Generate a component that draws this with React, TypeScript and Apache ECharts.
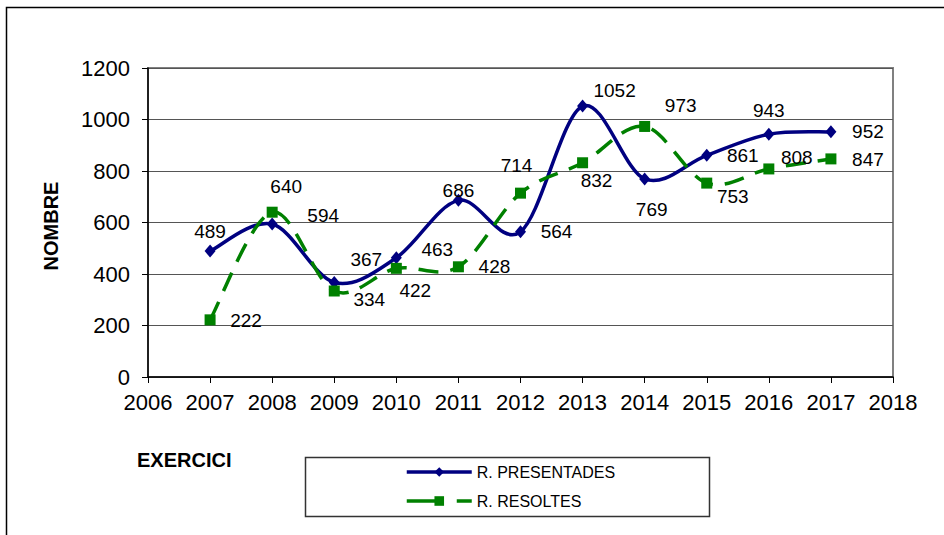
import React, { useEffect, useRef } from "react";
import * as echarts from "echarts";

const years = [2007, 2008, 2009, 2010, 2011, 2012, 2013, 2014, 2015, 2016, 2017];
const presentades = [489, 594, 367, 463, 686, 564, 1052, 769, 861, 943, 952];
const resoltes = [222, 640, 334, 422, 428, 714, 832, 973, 753, 808, 847];
const seriesNames = ["R. PRESENTADES", "R. RESOLTES"];
const xTitle = "EXERCICI";
const yTitle = "NOMBRE";

// label placement offsets (pixels) relative to each point
const presentadesLabelOffsets = [
  [0, -20], [51, -9], [32, -23], [41, -8], [0, -10], [36, 0], [32, -16], [7, 31], [36, 0], [0, -24], [37, 0],
];
const resoltesLabelOffsets = [
  [36, 1], [14, -26], [35, 9], [19, 22], [36, 0], [-4, -28], [14, 18], [36, -21], [26, 13], [28, -11], [37, 1],
];

const FONT = '"Liberation Sans", Arial, Helvetica, sans-serif';
const BLUE = "#000080";
const GREEN = "#008000";

function buildData(values: number[], offsets: number[][]) {
  return years.map((y, i) => ({
    value: [y, values[i]],
    label: { offset: offsets[i] },
  }));
}

// Catmull-Rom style smooth curve (Excel-like), computed in pixel space via the axes
function curveSeries(values: number[], color: string, dash: number[] | null, z: number) {
  return {
    type: "custom",
    silent: true,
    z,
    data: years.map((y, i) => [y, values[i]]),
    encode: { x: 0, y: 1 },
    renderItem: (params: any, api: any) => {
      if (params.dataIndex !== 0) return null;
      const pts = years.map((y, i) => api.coord([y, values[i]]));
      const n = pts.length;
      const t = 1 / 6;
      let d = `M${pts[0][0]},${pts[0][1]}`;
      for (let i = 0; i < n - 1; i++) {
        const p0 = pts[Math.max(0, i - 1)];
        const p1 = pts[i];
        const p2 = pts[i + 1];
        const p3 = pts[Math.min(n - 1, i + 2)];
        const c1x = p1[0] + (p2[0] - p0[0]) * t;
        const c1y = p1[1] + (p2[1] - p0[1]) * t;
        const c2x = p2[0] - (p3[0] - p1[0]) * t;
        const c2y = p2[1] - (p3[1] - p1[1]) * t;
        d += ` C${c1x},${c1y} ${c2x},${c2y} ${p2[0]},${p2[1]}`;
      }
      return {
        type: "path",
        shape: { pathData: d },
        style: {
          fill: "none",
          stroke: color,
          lineWidth: 3.5,
          lineDash: dash || undefined,
        },
      };
    },
  };
}

export default function App() {
  const ref = useRef<HTMLDivElement>(null);
  useEffect(() => {
    if (!ref.current) return;
    const chart = echarts.init(ref.current, undefined, { renderer: "svg" });
    const labelStyle = {
      show: true,
      position: "inside" as const,
      color: "#000",
      fontSize: 19,
      fontFamily: FONT,
    };
    chart.setOption({
      animation: false,
      backgroundColor: "#fff",
      textStyle: { fontFamily: FONT },
      grid: {
        left: 148,
        top: 68,
        right: 51,
        bottom: 158,
        show: true,
        borderColor: "#808080",
        borderWidth: 2,
      },
      xAxis: {
        type: "value",
        min: 2006,
        max: 2018,
        interval: 1,
        axisLine: { show: true, onZero: false, lineStyle: { color: "#000", width: 1.5 } },
        axisTick: { show: true, length: 6, lineStyle: { color: "#000" } },
        splitLine: { show: false },
        axisLabel: {
          formatter: (v: number) => String(v),
          fontSize: 22,
          color: "#000",
          fontFamily: FONT,
          margin: 14,
        },
      },
      yAxis: {
        type: "value",
        min: 0,
        max: 1200,
        interval: 200,
        axisLine: { show: true, lineStyle: { color: "#000", width: 1.5 } },
        axisTick: { show: true, length: 6, lineStyle: { color: "#000" } },
        splitLine: { show: true, lineStyle: { color: "#555", width: 1 } },
        axisLabel: {
          formatter: (v: number) => String(v),
          fontSize: 22,
          color: "#000",
          fontFamily: FONT,
          margin: 18,
        },
      },
      legend: {
        orient: "vertical",
        left: 400,
        top: 459,
        itemWidth: 65,
        itemHeight: 12,
        itemGap: 13,
        data: [
          { name: seriesNames[0], lineStyle: { opacity: 1, color: BLUE, width: 3.5 } },
          { name: seriesNames[1], lineStyle: { opacity: 1, color: GREEN, width: 3.5, type: [36, 14] } },
        ],
        textStyle: { fontSize: 16, color: "#000", fontFamily: FONT },
      },
      graphic: [
        {
          type: "rect",
          z: -10,
          shape: { x: 6.5, y: 7.5, width: 1000, height: 1000 },
          style: { fill: "none", stroke: "#000", lineWidth: 1.5 },
        },
        {
          type: "rect",
          shape: { x: 305.5, y: 457.5, width: 404, height: 59 },
          style: { fill: "none", stroke: "#333", lineWidth: 1.5 },
        },
        {
          type: "text",
          x: 137,
          y: 460,
          style: {
            text: xTitle,
            fontSize: 20,
            fontWeight: "bold",
            fontFamily: FONT,
            fill: "#000",
            verticalAlign: "middle",
            align: "left",
          },
        },
        {
          type: "text",
          x: 51,
          y: 226,
          rotation: Math.PI / 2,
          style: {
            text: yTitle,
            fontSize: 20,
            fontWeight: "bold",
            fontFamily: FONT,
            fill: "#000",
            verticalAlign: "middle",
            align: "center",
          },
        },
      ],
      series: [
        curveSeries(presentades, BLUE, null, 2),
        curveSeries(resoltes, GREEN, [20, 12], 2),
        {
          name: seriesNames[0],
          type: "line",
          data: buildData(presentades, presentadesLabelOffsets),
          symbol: "diamond",
          symbolSize: [11, 13],
          itemStyle: { color: BLUE },
          lineStyle: { color: BLUE, width: 3.5, opacity: 0 },
          label: labelStyle,
          z: 3,
        },
        {
          name: seriesNames[1],
          type: "line",
          data: buildData(resoltes, resoltesLabelOffsets),
          symbol: "rect",
          symbolSize: 11,
          itemStyle: { color: GREEN },
          lineStyle: { color: GREEN, width: 3.5, opacity: 0 },
          label: labelStyle,
          z: 3,
        },
      ],
    });
    return () => chart.dispose();
  }, []);
  return (
    <div
      ref={ref}
      style={{ position: "absolute", left: 0, top: 0, width: 944, height: 535 }}
    />
  );
}
